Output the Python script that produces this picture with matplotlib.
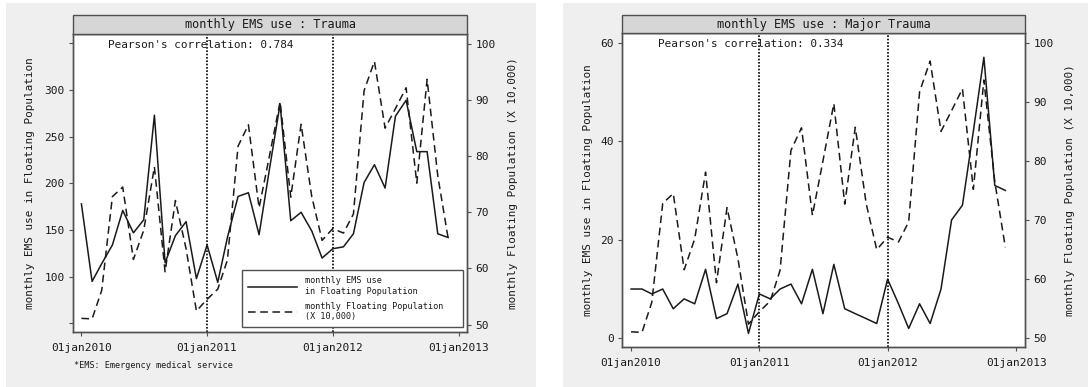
import matplotlib
matplotlib.use("Agg")
import matplotlib.pyplot as plt
from matplotlib.patches import Rectangle
from matplotlib.lines import Line2D
import pandas as pd

plt.rcParams['font.family'] = ['DejaVu Sans Mono']

# DATA
# -----------
months = pd.date_range('2010-01-01', periods=36, freq='MS')

# monthly EMS use, trauma (left panel, left axis)
ems_trauma = [178, 95, 114, 134, 171, 147, 161, 273, 115, 144, 159, 98,
              134, 94, 142, 186, 190, 145, 215, 285, 160, 169, 149, 120,
              130, 132, 146, 201, 220, 195, 272, 289, 234, 234, 146, 142]

# monthly EMS use, major trauma (right panel, left axis)
ems_major = [10, 10, 9, 10, 6, 8, 7, 14, 4, 5, 11, 1,
             9, 8, 10, 11, 7, 14, 5, 15, 6, 5, 4, 3,
             12, 7, 2, 7, 3, 10, 24, 27, 42, 57, 31, 30]

# monthly floating population (X 10,000), right axis of both panels
float_pop = [51.1, 51.0, 56.1, 72.8, 74.5, 61.6, 66.8, 78.1, 59.4, 72.1, 63.5, 52.4,
             54.5, 56.3, 61.5, 81.8, 85.6, 70.8, 80.0, 89.7, 72.7, 85.7, 72.8, 65.0,
             67.1, 66.3, 69.7, 91.7, 96.9, 85.0, 88.5, 92.2, 75.2, 93.7, 76.5, 65.4]

panel_titles = ['monthly EMS use : Trauma', 'monthly EMS use : Major Trauma']
pearson = ['0.784', '0.334']
year_marks = pd.to_datetime(['2011-01-01', '2012-01-01'])
xtick_dates = pd.to_datetime(['2010-01-01', '2011-01-01', '2012-01-01', '2013-01-01'])
xtick_labels = ['01jan2010', '01jan2011', '01jan2012', '01jan2013']

# FIGURE
# -----------
W, H = 1088, 387
fig = plt.figure(figsize=(W / 100, H / 100), dpi=100, facecolor='white')

def fbox(x0, y0, x1, y1):
    # pixel box (top-left origin) -> figure fraction [l, b, w, h]
    return [x0 / W, 1 - y1 / H, (x1 - x0) / W, (y1 - y0) / H]

edge = '#505050'
ink = '#1a1a1a'

# light gray panel backgrounds
for x0, x1 in [(6, 536), (563, 1088)]:
    l, b, w, h = fbox(x0, 3, x1, 387)
    fig.add_artist(Rectangle((l, b), w, h, transform=fig.transFigure,
                             facecolor='#efefef', edgecolor='none', zorder=0))

# panel geometry in pixels: plot box and title band top
panels = [
    dict(box=(72.8, 34.3, 467.4, 331.7), band_top=15, y=ems_trauma,
         lylim=(41.1, 359.7), lticks=[50, 100, 150, 200, 250, 300, 350],
         llabels=['', '100', '150', '200', '250', '300', ''],
         rylim=(48.72, 101.73), lab_l=-0.097, lab_r=1.103),
    dict(box=(622.3, 33.3, 1025, 346.7), band_top=15, y=ems_major,
         lylim=(-1.7, 61.87), lticks=[0, 20, 40, 60],
         llabels=['0', '20', '40', '60'],
         rylim=(48.58, 101.59), lab_l=-0.074, lab_r=1.099),
]

xmin = pd.Timestamp('2010-01-01') - pd.Timedelta(days=25)
xmax = pd.Timestamp('2013-01-01') + pd.Timedelta(days=25)

axes = []
for k, p in enumerate(panels):
    x0, y0, x1, y1 = p['box']
    ax = fig.add_axes(fbox(x0, y0, x1, y1))
    ax2 = ax.twinx()

    # title band
    l, b, w, h = fbox(x0, p['band_top'], x1, y0)
    fig.add_artist(Rectangle((l, b), w, h, transform=fig.transFigure,
                             facecolor='#d6d6d6', edgecolor=edge, lw=1.0, zorder=3))
    fig.text(l + w / 2, b + h / 2, panel_titles[k], ha='center', va='center',
             fontsize=8.6, color=ink, zorder=4)

    for t in year_marks:
        ax.axvline(t, color='black', lw=1.2, ls=(0, (1, 1)), zorder=1)

    ax.plot(months, p['y'], color=ink, lw=1.1, zorder=3)
    ax2.plot(months, float_pop, color=ink, lw=1.1, ls=(0, (5, 3)), zorder=3)

    ax.set_xlim(xmin, xmax)
    ax.set_ylim(*p['lylim'])
    ax2.set_ylim(*p['rylim'])
    ax.set_xticks(xtick_dates)
    ax.set_xticklabels(xtick_labels)
    ax.set_yticks(p['lticks'])
    ax.set_yticklabels(p['llabels'])
    ax2.set_yticks([50, 60, 70, 80, 90, 100])

    for a in (ax, ax2):
        a.tick_params(direction='out', length=3, width=0.8, color=edge,
                      labelsize=8, labelcolor=ink, pad=3)
        for s in a.spines.values():
            s.set_color(edge)
            s.set_linewidth(1.0)
    ax.tick_params(axis='x', pad=5)

    ax.set_ylabel('monthly EMS use in Floating Population', fontsize=7.9, color=ink)
    ax2.set_ylabel('monthly Floating Population (X 10,000)', fontsize=7.9, color=ink)
    ax.yaxis.set_label_coords(p['lab_l'], 0.5)
    ax2.yaxis.set_label_coords(p['lab_r'], 0.5)

    ax.text(0.089, 0.965, "Pearson's correlation: " + pearson[k], transform=ax.transAxes,
            ha='left', va='center', fontsize=7.9, color=ink)
    axes.append((ax, ax2))

# legend on the left panel
ax, ax2 = axes[0]
handles = [Line2D([], [], color=ink, lw=1.1),
           Line2D([], [], color=ink, lw=1.1, ls=(0, (5, 3)))]
leg = ax2.legend(handles, ['monthly EMS use\nin Floating Population',
                           'monthly Floating Population\n(X 10,000)'],
                 loc='lower left', bbox_to_anchor=(0.428, 0.0158, 0.5606, 0.198),
                 mode='expand', borderaxespad=0, fontsize=6.1, handlelength=5.8,
                 handletextpad=1.0, labelspacing=0.7, borderpad=0.7,
                 fancybox=False, framealpha=1, edgecolor=edge)
leg.get_frame().set_linewidth(1.0)
for t in leg.get_texts():
    t.set_color(ink)

# footnote
fig.text(74.5 / W, 1 - 365 / H, '*EMS: Emergency medical service', ha='left',
         va='center', fontsize=6.1, color=ink)

fig.savefig('out.png', dpi=100, facecolor='white')
